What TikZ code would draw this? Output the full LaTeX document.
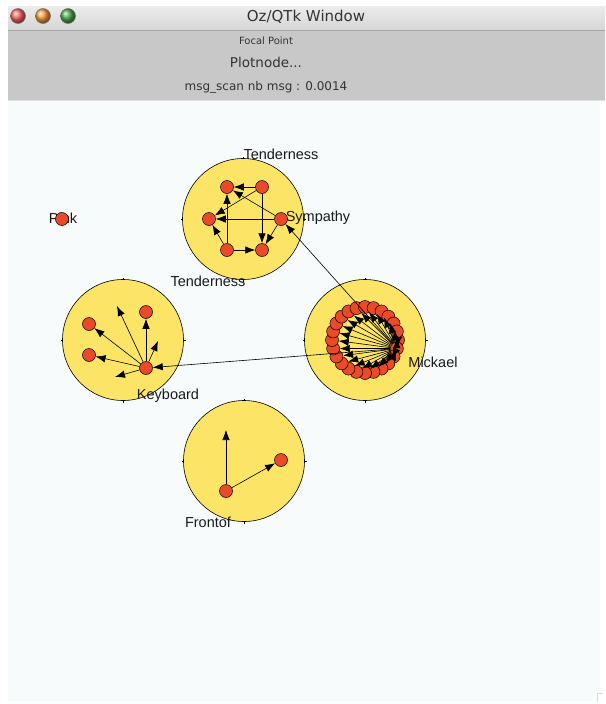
\documentclass[tikz,border=0pt]{standalone}
\usepackage{fontspec}
\setmainfont{Liberation Sans}
\newfontfamily\chromefont{DejaVu Sans}
\usetikzlibrary{arrows.meta}
\definecolor{canvasbg}{RGB}{248,251,252}
\definecolor{panelgrey}{RGB}{200,200,200}
\definecolor{barlight}{RGB}{236,236,236}
\definecolor{bardark}{RGB}{214,214,214}
\definecolor{groupfill}{RGB}{252,229,102}
\definecolor{agentred}{RGB}{232,74,42}
\begin{document}
\begin{tikzpicture}[x=1pt,y=-1pt,
  group/.style={circle,draw=black,line width=0.6pt,fill=groupfill,minimum size=121pt,inner sep=0pt},
  agent/.style={circle,draw=black,line width=0.5pt,fill=agentred,minimum size=13pt,inner sep=0pt},
  msg/.style={draw=black,line width=0.6pt,-{Latex[length=10pt,width=7.5pt]}},
  tag/.style={inner sep=0pt,font=\fontsize{14.5}{17}\selectfont,text=black!90},
  chrome/.style={inner sep=0pt,text=black!80},
  light/.style={circle,minimum size=15pt,inner sep=0pt,draw=black!55,line width=0.5pt}]
\path[use as bounding box] (0,0) rectangle (605,704);
\fill[white] (0,0) rectangle (605,704);
% window frame
\shade[top color=barlight,bottom color=bardark] (8,6) rectangle (605,30);
\fill[panelgrey] (8,30) rectangle (605,100);
\draw[black!35,line width=0.8pt] (8,30) -- (605,30);
\draw[black!12,line width=0.8pt] (8,100) -- (605,100);
\fill[canvasbg] (8,101) rectangle (600,701);
\node[light,ball color=red!60] (close) at (18,16) {};
\node[light,ball color=orange!75] (minimize) at (43,16) {};
\node[light,ball color=green!55!black!70] (zoom) at (68,16) {};
\node[chrome,font=\chromefont\fontsize{15}{17}\selectfont] (title) at (306,17) {Oz/QTk Window};
\node[chrome,font=\chromefont\fontsize{10}{12}\selectfont] (focal) at (266,41) {Focal Point};
\node[chrome,font=\chromefont\fontsize{13.5}{16}\selectfont] (plot) at (266,62) {Plotnode...};
\node[chrome,font=\chromefont\fontsize{12}{14}\selectfont] (scan) at (266,87) {msg\_scan nb msg : 0.0014};
\draw[black!15,line width=0.8pt] (597,702) -- (597,693) -- (603,693);
% groups
\node[group] (tender) at (243,219) {};
\node[group] (keyboard) at (123,340) {};
\node[group] (mickael) at (365,340) {};
\node[group] (frontof) at (244,461) {};
\foreach \g in {tender,keyboard,mickael,frontof}
  \foreach \a in {0,90,180,270}
    \draw[black,line width=0.5pt] ([shift={(\a:60)}]\g.center) -- ([shift={(\a:62.5)}]\g.center);
% labels
\node[tag] (tenderTop) at (281,154) {Tenderness};
\node[tag] (tenderBot) at (208,281) {Tenderness};
\node[tag] (symLabel) at (318,218) {Sympathy};
\node[tag] (pinkLabel) at (63,218) {Pink};
\node[tag] (kbLabel) at (168,396) {Keyboard};
\node[tag] (mkLabel) at (433,362) {Mickael};
\node[tag] (frLabel) at (208,522) {Frontof};
% agents
\node[agent] (pk) at (62,219) {};
\node[agent] (tl) at (227,187) {};
\node[agent] (tr) at (262,187) {};
\node[agent] (lf) at (209,219) {};
\node[agent] (sym) at (281,219) {};
\node[agent] (bl) at (227,250) {};
\node[agent] (br) at (262,250) {};
\node[agent] (kb) at (146,368) {};
\node[agent] (k1) at (89,324) {};
\node[agent] (k2) at (89,355) {};
\node[agent] (k3) at (146,312) {};
\coordinate (k4) at (117,306);
\coordinate (k5) at (158,341);
\coordinate (k6) at (115,377);
\node[agent] (fr) at (226,491) {};
\node[agent] (f1) at (281,460) {};
\coordinate (f2) at (226,430);
\foreach \k in {0,...,23}
  \node[agent] (m\k) at ([shift={(15*\k:33)}]mickael.center) {};
% messages
\foreach \s/\t in {tr/tl,sym/tl,tr/lf,sym/lf,bl/tl,bl/lf,bl/br,tr/br,sym/br}
  \draw[msg] (\s) -- (\t);
\foreach \t in {k1,k2,k3}
  \draw[msg] (kb) -- (\t);
\foreach \t in {k4,k5,k6}
  \draw[msg] (kb) -- (\t);
\draw[msg] (fr) -- (f2);
\draw[msg] (fr) -- (f1);
\foreach \k in {0,2,3,...,23}
  \draw[msg] (m1) -- (m\k);
\draw[msg] (m1) -- (kb);
\draw[msg] (m1) -- (sym);
\end{tikzpicture}
\end{document}
